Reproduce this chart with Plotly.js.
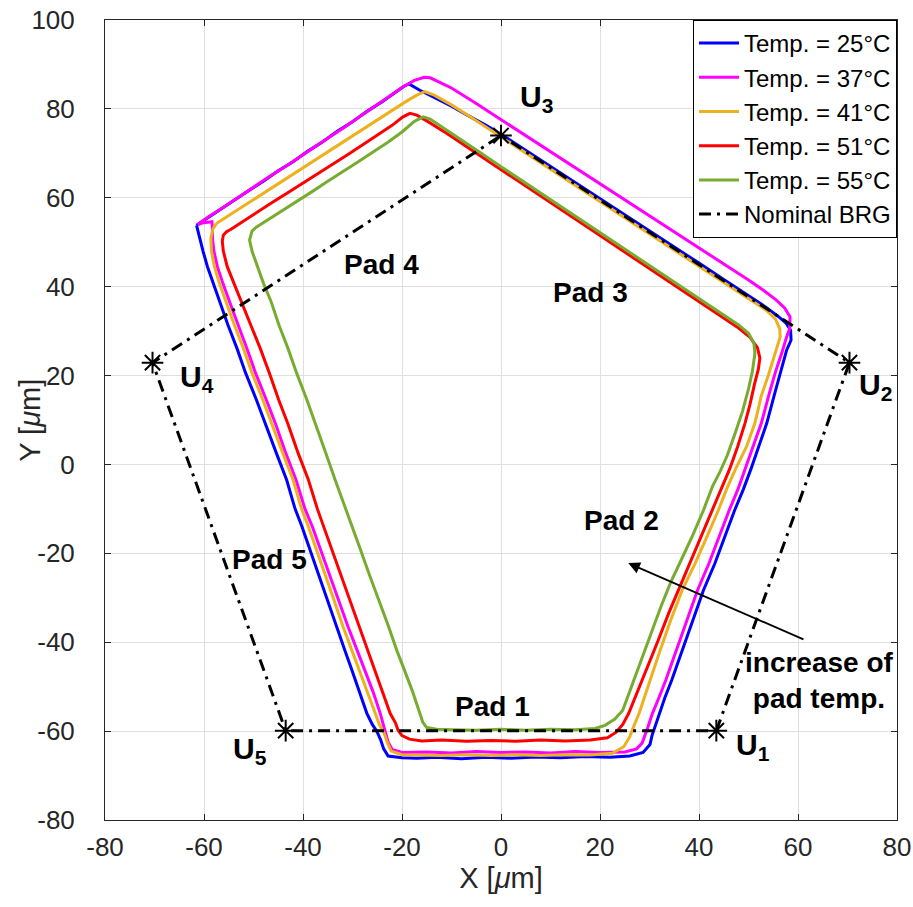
<!DOCTYPE html>
<html>
<head>
<meta charset="utf-8">
<script src="https://cdn.plot.ly/plotly-3.0.1.min.js"></script>
<style>html,body{margin:0;padding:0;background:#fff;}#chart{width:913px;height:907px;}</style>
</head>
<body>
<div id="chart"></div>
<script>
// ---- data (µm) ----
const seriesNames = ["Temp. = 25°C", "Temp. = 37°C", "Temp. = 41°C", "Temp. = 51°C", "Temp. = 55°C"];
const seriesColors = ["#0000ff", "#ff00ff", "#edb120", "#ff0000", "#77ac30"];

const pts25 = [[-61.5,53.8],[-59.5,55.3],[-57,57.1],[-54,59.3],[-51,61.6],[-48,63.7],[-45,66.1],[-42,68.1],[-39,70.5],[-36,72.6],[-33,75],[-30,77.1],[-27,79.5],[-24,81.6],[-21.5,83.6],[-19.6,85.1],[-18.6,85.6],[-17.3,84.7],[-16.4,84.2],
 [-13,82.3],[-10,80.6],[-6,78.1],[-3,76.3],[0,74.3],[5,70.7],[10,67.1],[15,63.4],[20,59.8],[25,56.2],[30,52.6],[35,48.9],[40,45.3],[45,41.6],[50,38],[53.5,35.4],[56,33.3],[57.6,31.8],[58.5,30.2],[58.6,28],
 [57.7,25.7],[56.6,21],[55.3,16],[53.7,9.3],[52.1,4],[50.5,-1],[49,-5.5],[47.2,-10.3],[45.3,-16],[43.2,-22.3],[40.9,-28.3],[38.8,-35],[36.6,-42],[34.5,-48.5],[33.1,-52.5],[32,-56],[31,-59],[30.5,-61],[30.1,-63],[28.7,-64.8],[26,-65.6],
 [22,-65.9],[17,-65.7],[12,-66],[7,-65.8],[2,-66.1],[-3,-65.9],[-8,-66.2],[-13,-65.9],[-17,-66.1],[-20,-66],
 [-22.8,-65.6],[-23.7,-64],[-24.3,-62],[-25.1,-60],[-26,-58.5],[-27.1,-56],
 [-28.6,-51],[-30.2,-46],[-31.5,-42],[-33.2,-36.5],[-35.2,-30],[-36.9,-24.5],[-38.8,-18.5],[-40.2,-14],[-41.6,-10],[-43.3,-3.5],[-45.4,2.6],[-47.5,9],[-49.4,14.5],[-51.6,20.6],[-53.3,26],[-55.2,31.5],[-56.8,36.5],[-58.2,40.8],[-59.3,44.5],[-60.2,48],[-60.8,51],[-61.5,53.8]];

const pts37 = [[-61.3,54],[-59,55.8],[-56,57.9],[-53,60.2],[-50,62.3],[-47,64.6],[-44,66.7],[-41,69],[-38,71.1],[-35,73.4],[-32,75.6],[-29,77.9],[-26,80.2],[-23,82.4],[-20,84.8],[-17.5,86.4],[-15.5,87.1],[-14.3,87],
 [-12.5,86.1],[-10,84.7],[-5,81.2],[0,77.6],[5,74],[10,70.4],[15,66.7],[20,63.2],[25,59.5],[30,55.9],[35,52.4],[40,48.7],[45,45],[50,41.5],[53,39.2],[55.5,37.1],[57.3,35.2],[58.4,33.2],[58.3,30.5],[57.7,28.7],
 [56.7,25],[55.5,21],[54.2,16],[52.6,9.3],[50.9,4],[49.4,-1],[47.9,-5.5],[46.1,-10.3],[44.2,-16],[42,-22.3],[39.7,-28.3],[37.6,-35],[35.4,-42],[33.3,-48.5],[31.9,-52.5],[30.6,-56],[29.7,-59],[29.1,-61],[28.5,-62.7],[27.4,-64],[25,-64.7],
 [20,-64.8],[15,-64.6],[10,-64.9],[5,-64.7],[0,-64.8],[-5,-64.6],[-10,-64.9],[-15,-64.7],[-20,-64.8],
 [-22,-64.1],[-22.8,-62.5],[-23.3,-60.5],[-23.8,-58.5],[-24.4,-56],
 [-25.9,-51],[-27.7,-46],[-29,-42],[-30.9,-36.5],[-33,-30],[-34.8,-24.5],[-36.7,-18.5],[-38.1,-14],[-39.6,-10],[-41.4,-3.5],[-43.5,2.6],[-45.5,9],[-47.4,14.5],[-49.6,20.6],[-51.3,26],[-53.2,31.5],[-54.8,36.5],[-56.2,40.8],[-57.3,44.5],[-58,48],[-58.3,51],[-58.3,53],[-58.4,54.6],[-60,54.4],[-61.3,54]];

const pts41 = [[-57.5,54.2],[-55,56],[-52,58.2],[-49,60.3],[-46,62.5],[-43,64.6],[-40,66.8],[-37,69],[-34,71.1],[-31,73.3],[-28,75.4],[-25,77.6],[-22,79.7],[-19,81.8],[-17,83.1],[-15.4,83.9],
 [-13.5,83.1],[-10,80.9],[-6.3,78.3],[-3,75.9],[0,73.7],[5,70.1],[10,66.5],[15,62.8],[20,59.2],[25,55.6],[30,52],[35,48.3],[40,44.7],[45,41],[50,37.4],[53.7,34.6],[55.5,32.6],[56.3,30.5],[56.4,28.7],
 [55.4,25],[54,20],[52.6,15.5],[51.3,9.3],[49.6,4],[47.4,-1],[45.6,-5.5],[43.9,-10.3],[41.7,-16],[39.2,-22.3],[36.6,-28.3],[34.3,-35],[32.1,-42],[30.2,-48.5],[29,-52.5],[27.9,-56],[26.8,-59],[26,-61.3],[24.8,-63.5],[22.5,-65],
 [18,-65.4],[13,-65.3],[8,-65.5],[3,-65.3],[-2,-65.5],[-7,-65.3],[-12,-65.5],[-17,-65.3],[-20,-65.3],
 [-22.2,-64.5],[-23,-62.5],[-23.6,-60.5],[-24.6,-58.5],[-25.4,-56],
 [-27.1,-51],[-28.8,-46],[-30.1,-42],[-31.9,-36.5],[-33.9,-30],[-35.6,-24.5],[-37.5,-18.5],[-38.9,-14],[-40.3,-10],[-42,-3.5],[-44.1,2.6],[-46.2,9],[-48.1,14.5],[-50.3,20.6],[-52,26],[-53.9,31.5],[-55.5,36.5],[-56.9,40.8],[-57.9,44.5],[-58.5,48],[-58.6,51],[-58.2,53],[-57.5,54.2]];

const pts51 = [[-54.7,52.8],[-52,54.8],[-49,56.9],[-46,59.1],[-43,61.2],[-40,63.3],[-37,65.5],[-34,67.6],[-31,69.7],[-28,71.9],[-25,74.1],[-22,76.3],[-19.8,78.2],[-18.4,79],[-17,78.6],
 [-15,77.3],[-11,74.5],[-5,70],[0,66.3],[5,62.6],[10,58.9],[15,55.2],[20,51.5],[25,47.8],[30,44.1],[35,40.4],[40,36.7],[45,33],[48,30.7],[50.3,28.6],[51.8,26.3],[52.3,24],
 [52,21.5],[51.2,18],[50.3,13.5],[49.3,9.3],[47.8,4],[46.2,-1],[44.5,-5.5],[42.6,-10.3],[40.5,-16],[38.1,-22.3],[35.8,-28.3],[33.9,-33.4],[31.6,-40],[29.4,-46],[27.8,-50.5],[25.8,-56],[24.6,-58.5],[23.2,-60.3],[21.5,-61.5],[18,-62],
 [13,-62.2],[8,-62],[3,-62.3],[-2,-62.1],[-7,-62.3],[-12,-62],[-16,-62.2],[-18.5,-61.8],
 [-20,-61],[-20.8,-59.8],[-21.3,-58.2],[-22.4,-56],
 [-24,-51],[-25.6,-46],[-26.8,-42],[-28.6,-36.5],[-30.6,-30],[-32.4,-24.5],[-34.4,-18.5],[-35.8,-14],[-37.1,-10],[-38.9,-3.5],[-41,2.6],[-43,9],[-44.9,14.5],[-46.8,20.6],[-48.6,26],[-50.6,31.5],[-52.4,36.5],[-54.1,40.8],[-55.3,44.5],[-56.1,48],[-56.3,50.2],[-56.1,51.6],[-55.4,52.4],[-54.7,52.8]];

const pts55 = [[-49.3,53.5],[-47,55.1],[-44,57.3],[-41,59.4],[-38,61.5],[-35,63.7],[-32,65.8],[-29,68],[-26,70.2],[-23,72.4],[-20,74.8],[-17.5,77.2],[-15.7,78.2],
 [-14.3,77.7],[-12,76],[-8,72.9],[-4,70],[0,67],[5,63.3],[10,59.6],[15,55.9],[20,52.2],[25,48.5],[30,44.8],[35,41.1],[40,37.4],[45,33.7],[48,31.4],[50,29.5],[51.1,27.2],[51.3,25],
 [50.8,21],[50,17],[48.8,12],[47.3,7],[45.7,2],[44.3,-1.5],[42.7,-5],[40.9,-10.3],[38.7,-16],[36.4,-21.5],[34.3,-26.5],[32.3,-32],[30.3,-38],[28.4,-44],[26.9,-48.5],[25.6,-52.5],[24.6,-55.3],[23,-57.3],[21,-58.7],[19,-59.4],
 [15,-59.7],[10,-59.6],[5,-59.8],[0,-59.6],[-5,-59.8],[-10,-59.7],[-13,-59.6],
 [-15,-59.2],[-15.8,-58],[-16.4,-56],
 [-17.9,-51],[-19.6,-46],[-21,-42],[-22.7,-36.5],[-24.9,-30],[-26.7,-24.5],[-28.6,-18.5],[-30.1,-14],[-31.4,-10],[-33.5,-3.5],[-35.4,2.6],[-37.4,9],[-39.2,14.5],[-41.3,20.6],[-43,26],[-44.9,31.5],[-46.4,36.5],[-48,40.8],[-49.2,44.5],[-50.3,48],[-50.8,50.5],[-50.3,52.5],[-49.3,53.5]];

// nominal bearing (U1..U5, closed)
const nominalLabels = ["U1", "U2", "U3", "U4", "U5"];
const nominalX = [43.5, 70.4, 0, -70.4, -43.5, 43.5];
const nominalY = [-59.9, 22.9, 74, 22.9, -59.9, -59.9];

// pad labels
const padTexts = ["Pad 1", "Pad 2", "Pad 3", "Pad 4", "Pad 5"];
const padX = [-1.8, 24.4, 18, -24.2, -46.7];
const padY = [-54.4, -12.7, 38.8, 44.9, -21.3];

// vertex labels
const uSubs = ["1", "2", "3", "4", "5"];
const uX = [47.0, 72.0, 3.5, -65.3, -54.6];
const uY = [-63.4, 17.6, 82.3, 19.4, -64.3];

// tick labels
const xTickVals = [-80, -60, -40, -20, 0, 20, 40, 60, 80];
const xTickText = ["-80", "-60", "-40", "-20", "0", "20", "40", "60", "80"];
const yTickVals = [-80, -60, -40, -20, 0, 20, 40, 60, 80, 100];
const yTickText = ["-80", "-60", "-40", "-20", "0", "20", "40", "60", "80", "100"];

// ---- traces ----
const allPts = [pts25, pts37, pts41, pts51, pts55];
const traces = allPts.map((p, i) => ({
  type: "scatter", mode: "lines",
  x: p.map(q => q[0]), y: p.map(q => q[1]),
  name: seriesNames[i],
  line: {color: seriesColors[i], width: 3}
}));
traces.push({
  type: "scatter", mode: "lines", x: nominalX, y: nominalY,
  name: "Nominal BRG",
  line: {color: "#000", width: 3, dash: "12px,6px,3px,6px"}
});
traces.push({
  type: "scatter", mode: "markers", x: nominalX.slice(0, 5), y: nominalY.slice(0, 5),
  showlegend: false, hoverinfo: "skip",
  marker: {symbol: "asterisk-open", size: 18, color: "#000", line: {color: "#000", width: 2}}
});

const FONT = "Arial, 'Liberation Sans', Helvetica, sans-serif";
const annotations = [];
padTexts.forEach((t, i) => annotations.push({
  x: padX[i], y: padY[i], xref: "x", yref: "y", text: "<b>" + t + "</b>",
  showarrow: false, font: {family: FONT, size: 28, color: "#000"}
}));
uSubs.forEach((s, i) => annotations.push({
  x: uX[i], y: uY[i], xref: "x", yref: "y", xanchor: "left", yanchor: "middle",
  text: "<b>U<sub>" + s + "</sub></b>",
  showarrow: false, font: {family: FONT, size: 30, color: "#000"}
}));
annotations.push({
  x: 64.4, y: -48.5, xref: "x", yref: "y", text: "<b>increase of<br>pad temp.</b>",
  showarrow: false, align: "center", font: {family: FONT, size: 28, color: "#000"}
});
annotations.push({
  x: 25.7, y: -22.2, ax: 61.4, ay: -39.5, xref: "x", yref: "y", axref: "x", ayref: "y",
  text: "", showarrow: true, arrowhead: 2, arrowsize: 1.3, arrowwidth: 1.8, arrowcolor: "#000"
});
// Y axis title (placed like the reference, close to the tick labels)
annotations.push({
  x: -0.095, y: 0.5, xref: "paper", yref: "paper", xanchor: "center", yanchor: "middle",
  text: "Y [<i>μ</i>m]", textangle: -90, showarrow: false,
  font: {family: FONT, size: 29, color: "#262626"}
});

const axisCommon = {
  showgrid: true, gridcolor: "#dfdfdf", gridwidth: 1,
  zeroline: false, showline: true, linecolor: "#262626", linewidth: 1, mirror: "ticks",
  ticks: "inside", ticklen: 6, tickcolor: "#262626", tickmode: "array",
  tickfont: {family: FONT, size: 26, color: "#262626"}
};

const layout = {
  width: 913, height: 907,
  margin: {l: 105, r: 16, t: 20, b: 87},
  paper_bgcolor: "#fff", plot_bgcolor: "#fff",
  xaxis: Object.assign({}, axisCommon, {
    range: [-80, 80], tickvals: xTickVals, ticktext: xTickText, ticklabelstandoff: 4,
    title: {text: "X [<i>μ</i>m]", font: {family: FONT, size: 29, color: "#262626"}, standoff: 6}
  }),
  yaxis: Object.assign({}, axisCommon, {
    range: [-80, 100], tickvals: yTickVals, ticktext: yTickText, ticklabelstandoff: 24
  }),
  showlegend: true,
  legend: {
    x: 1, y: 1, xanchor: "right", yanchor: "top",
    bgcolor: "#fff", bordercolor: "#000", borderwidth: 1,
    font: {family: FONT, size: 24, color: "#000"},
    traceorder: "normal", itemwidth: 40
  },
  annotations: annotations
};

Plotly.newPlot("chart", traces, layout, {displayModeBar: false, staticPlot: true});
</script>
</body>
</html>
